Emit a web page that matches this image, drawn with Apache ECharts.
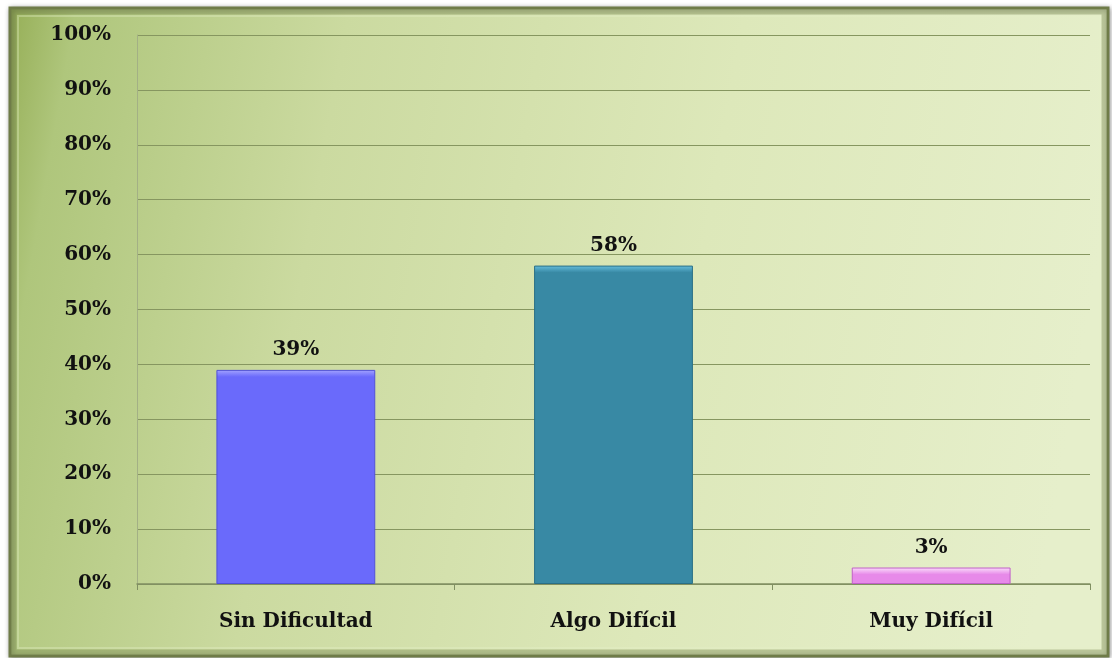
<!DOCTYPE html>
<html>
<head>
<meta charset="utf-8">
<script src="https://cdn.jsdelivr.net/npm/echarts@6/dist/echarts.min.js"></script>
<style>
  html, body { margin: 0; padding: 0; background: #ffffff; }
  #chart { width: 1112px; height: 658px; }
</style>
</head>
<body>
<div id="chart"></div>
<script>
// Survey result: perceived difficulty
const categories = ['Sin Dificultad', 'Algo Difícil', 'Muy Difícil'];
const values = [39, 58, 3];
// [top bevel, body, edge]
const barColors = [
  ['#a4a4ff', '#6a6afb', '#5050d8'],
  ['#66bedd', '#3889a4', '#2a6f86'],
  ['#fbe0fb', '#e78ae9', '#c060c8']
];
const yTicks = { min: 0, max: 100, interval: 10 };

const chart = echarts.init(document.getElementById('chart'), null, { renderer: 'canvas' });
const serif = '"DejaVu Serif", "Liberation Serif", serif';
const gridTop = 35, gridBottom = 74;
const plotHeight = 658 - gridTop - gridBottom;

chart.setOption({
  backgroundColor: '#ffffff',
  animation: false,
  graphic: [
    {
      type: 'rect',
      z: -10,
      shape: { x: 10, y: 8, width: 1098, height: 648 },
      style: {
        fill: {
          type: 'linear', x: 0, y: 0, x2: 1, y2: 0.3,
          colorStops: [
            { offset: 0, color: '#95ae56' },
            { offset: 0.06, color: '#afc67c' },
            { offset: 0.3, color: '#cbdaa0' },
            { offset: 0.65, color: '#dde8ba' },
            { offset: 1, color: '#e6efcb' }
          ]
        },
        stroke: '#6f7c48',
        lineWidth: 3,
        shadowBlur: 5,
        shadowOffsetX: 1,
        shadowOffsetY: 1,
        shadowColor: 'rgba(0,0,0,0.35)'
      }
    },
    {
      type: 'rect',
      z: -9,
      shape: { x: 14, y: 12, width: 1090, height: 640 },
      style: {
        fill: 'none',
        stroke: 'rgba(120,135,80,0.4)',
        lineWidth: 5
      }
    },
    {
      type: 'rect',
      z: -8,
      shape: { x: 18, y: 16, width: 1082, height: 632 },
      style: {
        fill: 'none',
        stroke: 'rgba(230,242,200,0.35)',
        lineWidth: 2
      }
    }
  ],
  grid: { left: 137, right: 22, top: gridTop, bottom: gridBottom, containLabel: false },
  xAxis: {
    type: 'category',
    data: categories,
    axisLine: { show: true, lineStyle: { color: '#808f62', width: 1.5 } },
    axisTick: { show: true, length: 6, lineStyle: { color: '#808f62' } },
    axisLabel: {
      color: '#111',
      fontFamily: serif,
      fontWeight: 'bold',
      fontSize: 20,
      margin: 28
    }
  },
  yAxis: {
    type: 'value',
    min: yTicks.min,
    max: yTicks.max,
    interval: yTicks.interval,
    axisLine: { show: true, lineStyle: { color: '#a3b085', width: 1 } },
    axisTick: { show: false },
    splitLine: { show: true, lineStyle: { color: '#869660', width: 1.2 } },
    axisLabel: {
      formatter: '{value}%',
      color: '#111',
      fontFamily: serif,
      fontWeight: 'bold',
      fontSize: 20,
      margin: 26
    }
  },
  series: [{
    type: 'bar',
    barWidth: '50%',
    data: values.map((v, i) => {
      const h = v / yTicks.max * plotHeight;
      const bevel = Math.min(0.45, 7 / h);
      return {
        value: v,
        itemStyle: {
          color: {
            type: 'linear', x: 0, y: 0, x2: 0, y2: 1,
            colorStops: [
              { offset: 0, color: barColors[i][0] },
              { offset: bevel, color: barColors[i][1] },
              { offset: 1, color: barColors[i][1] }
            ]
          },
          borderColor: barColors[i][2],
          borderWidth: 1
        }
      };
    }),
    label: {
      show: true,
      position: 'top',
      distance: 10,
      formatter: '{c}%',
      color: '#111',
      fontFamily: serif,
      fontWeight: 'bold',
      fontSize: 20
    }
  }]
});
</script>
</body>
</html>
